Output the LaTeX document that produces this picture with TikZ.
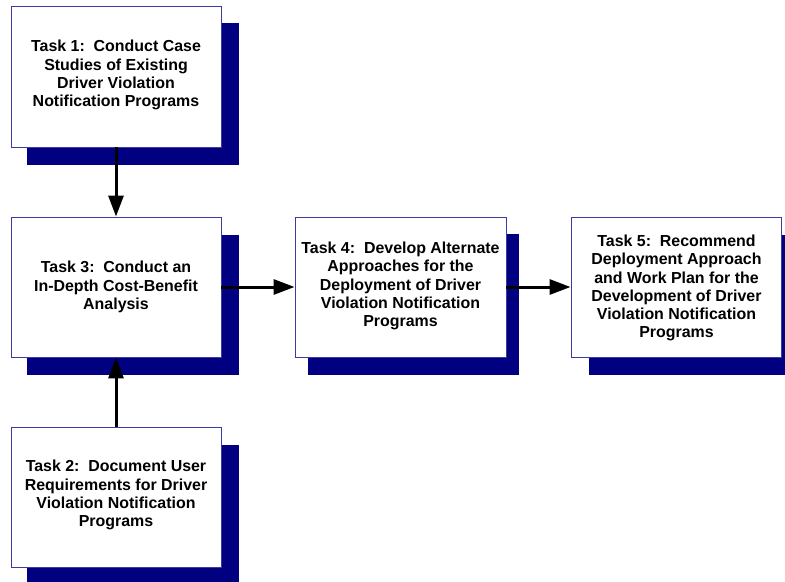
\documentclass[tikz,border=0pt]{standalone}
\usepackage{fontspec}
\setmainfont{Liberation Sans}
\usetikzlibrary{arrows.meta}
\definecolor{shadowblue}{RGB}{0,0,128}
\definecolor{boxline}{RGB}{60,60,160}
\begin{document}
\begin{tikzpicture}[x=1bp,y=-1bp,
  taskbox/.style={draw=boxline, line width=0.9bp, fill=white, inner sep=0pt, minimum width=210bp, minimum height=140bp},
  tasktext/.style={align=center, font=\fontsize{16}{18.2}\selectfont\bfseries, inner sep=0pt},
  flow/.style={line width=3bp, -{Triangle[length=21bp,width=15bp]}}]
\useasboundingbox (0,0) rectangle (785,582);
% shadows
\fill[shadowblue] (27,23) rectangle (239,165);
\fill[shadowblue] (27,235) rectangle (239,375);
\fill[shadowblue] (27,445) rectangle (239,590);
\fill[shadowblue] (308,234) rectangle (519,375);
\fill[shadowblue] (589,235) rectangle (800,375);
% boxes
\node[taskbox, minimum height=141bp] (t1) at (116,76.5) {};
\node[taskbox] (t3) at (116,287) {};
\node[taskbox] (t2) at (116,497) {};
\node[taskbox, minimum width=211bp] (t4) at (400.5,287) {};
\node[taskbox] (t5) at (676,287) {};
% texts
\node[tasktext] (l1) at (116,75) {Task 1:\ \ Conduct Case\\Studies of Existing\\Driver Violation\\Notification Programs};
\node[tasktext] (l3) at (116,287) {Task 3:\ \ Conduct an\\In-Depth Cost-Benefit\\Analysis};
\node[tasktext] (l2) at (116,495) {Task 2:\ \ Document User\\Requirements for Driver\\Violation Notification\\Programs};
\node[tasktext] (l4) at (400.5,286) {Task 4:\ \ Develop Alternate\\Approaches for the\\Deployment of Driver\\Violation Notification\\Programs};
\node[tasktext] (l5) at (676.5,288) {Task 5:\ \ Recommend\\Deployment Approach\\and Work Plan for the\\Development of Driver\\Violation Notification\\Programs};
% arrows
\draw[flow] (t1.south) -- (t3.north);
\draw[flow] (t2.north) -- (t3.south);
\draw[flow] (t3.east) -- (t4.west);
\draw[flow] (t4.east) -- (t5.west);
\end{tikzpicture}
\end{document}
